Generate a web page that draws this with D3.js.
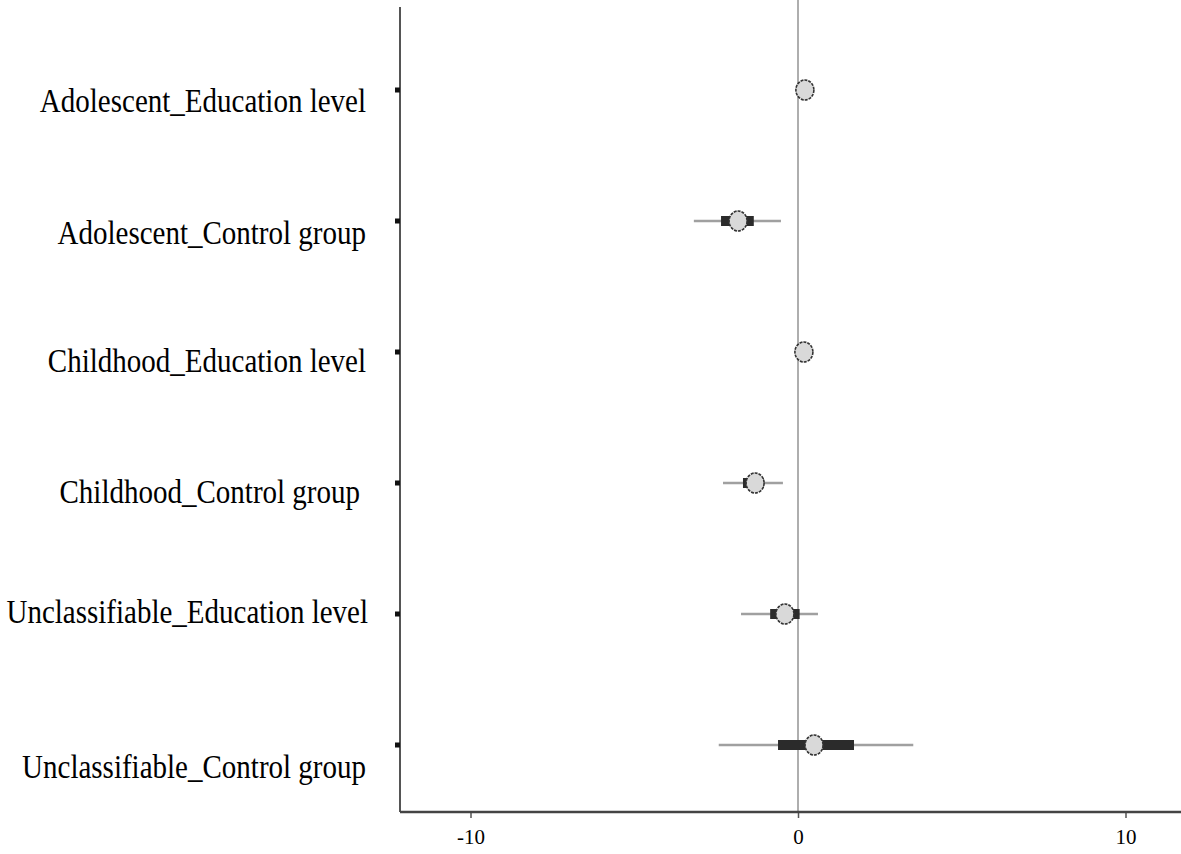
<!DOCTYPE html>
<html><head><meta charset="utf-8">
<script src="https://cdn.jsdelivr.net/npm/d3@7"></script>
<style>body{margin:0;background:#fff;}svg{display:block;}</style>
</head><body>
<script>
const categories = ["Adolescent_Education level","Adolescent_Control group","Childhood_Education level","Childhood_Control group","Unclassifiable_Education level","Unclassifiable_Control group"];
const estimate = [0.21, -1.83, 0.18, -1.31, -0.40, 0.49];
const ciLow    = [0.15, -3.18, 0.12, -2.29, -1.74, -2.42];
const ciHigh   = [0.27, -0.52, 0.24, -0.46, 0.61, 3.52];
const boxLow   = [0.15, -2.35, 0.12, -1.68, -0.85, -0.61];
const boxHigh  = [0.27, -1.35, 0.24, -1.04, 0.05, 1.71];
const xTicks = [-10, 0, 10];
const xTickLabels = ["-10", "0", "10"];

const W = 1181, H = 854;
const labelDy = [22, 23, 20, 20, 9, 33];
const labelDx = [0, 0, 0, -6, 2, 0];
const svg = d3.select("body").append("svg").attr("width", W).attr("height", H);
// 0 -> ~798, 32.75 px per unit
const x = d3.scaleLinear().domain([(400 - 798) / 32.75, (1181 - 798) / 32.75]).range([400, 1181]);
const y = d3.scalePoint().domain(categories).range([90, 745]);
const axisY = 812;
const serif = "Liberation Serif, Times New Roman, serif";

// zero reference line
svg.append("line").attr("x1", x(0)).attr("x2", x(0)).attr("y1", 0).attr("y2", axisY)
  .attr("stroke", "#9a9a9a").attr("stroke-width", 1.6);

// y axis line
svg.append("line").attr("x1", 400).attr("x2", 400).attr("y1", 7).attr("y2", axisY)
  .attr("stroke", "#555").attr("stroke-width", 2);
const xa = svg.append("g").attr("transform", `translate(0,${axisY})`)
  .call(d3.axisBottom(x).tickValues(xTicks).tickFormat((d,i)=>xTickLabels[i]).tickSize(6).tickPadding(11));
xa.select(".domain").remove();
xa.append("line").attr("x1", 400).attr("x2", W).attr("stroke", "#444").attr("stroke-width", 2.5);
xa.selectAll(".tick line").attr("stroke", "#555").attr("stroke-width", 1.5);
xa.selectAll(".tick text").attr("fill", "#000").attr("font-family", serif).attr("font-size", 21);

// y ticks (small black squares) and labels
const ya = svg.append("g");
categories.forEach((c, i) => {
  ya.append("rect").attr("x", 395).attr("y", y(c) - 2.5).attr("width", 5).attr("height", 5).attr("fill", "#111");
  ya.append("text")
    .attr("transform", `translate(${366 + labelDx[i]},${y(c) + labelDy[i]}) scale(1,1.15)`)
    .attr("text-anchor", "end").attr("font-family", serif)
    .attr("font-size", 29).attr("fill", "#000").text(c);
});

// marks
const g = svg.append("g");
categories.forEach((c, i) => {
  const cy = y(c);
  g.append("line").attr("x1", x(ciLow[i])).attr("x2", x(ciHigh[i])).attr("y1", cy).attr("y2", cy)
    .attr("stroke", "#a0a0a0").attr("stroke-width", 2.4);
  g.append("rect").attr("x", x(boxLow[i])).attr("width", x(boxHigh[i]) - x(boxLow[i]))
    .attr("y", cy - 5).attr("height", 10).attr("fill", "#2b2b2b");
  g.append("ellipse").attr("cx", x(estimate[i])).attr("cy", cy).attr("rx", 9).attr("ry", 10)
    .attr("fill", "#d9d9d9").attr("stroke", "#333").attr("stroke-width", 1.6).attr("stroke-dasharray", "3,1");
});
</script>
</body></html>
